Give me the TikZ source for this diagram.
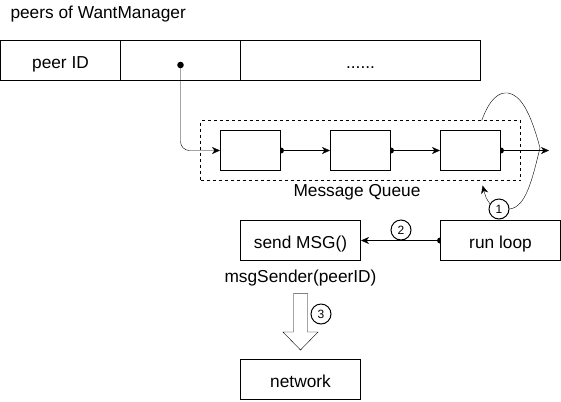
\documentclass[tikz,border=0pt]{standalone}
\usepackage{fontspec}
\setmainfont{Liberation Sans}
\usetikzlibrary{arrows.meta}
\pgfdeclarelayer{back}
\pgfsetlayers{back,main}
\begin{document}
\begin{tikzpicture}[x=1bp,y=-1bp,line width=1bp,
  txt/.style={font=\fontsize{17.3bp}{20bp}\selectfont},
  cell/.style={txt,draw,inner sep=0pt,minimum height=40bp,text height=16bp,text depth=0pt},
  box/.style={cell,fill=white,minimum width=120bp},
  qbox/.style={draw,fill=white,minimum width=60bp,minimum height=40bp,inner sep=0pt},
  num/.style={draw,fill=white,circle,inner sep=0pt,minimum size=20bp,font=\fontsize{12bp}{12bp}\selectfont},
  arr/.style={-{Stealth[length=8bp,width=7bp,inset=2.5bp]}},
  dot/.style={fill=black}]
\useasboundingbox (0,0) rectangle (561,401);
% title
\node[txt,anchor=base west,inner sep=0pt] (title) at (10,18.5) {peers of WantManager};
% table
\node[cell,minimum width=120bp] (c1) at (60.5,60) {peer ID};
\node[cell,minimum width=120bp] (c2) at (180.5,60) {};
\node[cell,minimum width=240bp] (c3) at (360.5,60) {......};
% message queue
\node[draw,dashed,dash pattern=on 3bp off 3bp,minimum width=320bp,minimum height=60bp,inner sep=0pt] (mq) at (360.5,150.5) {};
\node[txt,anchor=base,inner sep=0pt] (mql) at (357,196) {Message Queue};
\node[qbox] (q1) at (250.5,150.5) {};
\node[qbox] (q2) at (360.5,150.5) {};
\node[qbox] (q3) at (470.5,150.5) {};
\coordinate (qout) at (549,150.5);
% lower boxes
\node[box] (send) at (300.5,240.5) {send MSG()};
\node[box] (run) at (500.5,240.5) {run loop};
\node[txt,anchor=base,inner sep=0pt] (ms) at (300.5,282.5) {msgSender(peerID)};
\node[box] (net) at (300.5,379.5) {network};
% numbers
\node[num] (n1) at (499,209) {1};
\node[num] (n2) at (401,230) {2};
\node[num] (n3) at (321,314) {3};
% coordinates
\coordinate (dA) at (180.5,65);
\coordinate (qtop) at (481.7,120.5);
\coordinate (qback) at (482.5,185.5);
\begin{pgfonlayer}{back}
\fill[dot] (dA) circle (3.3bp);
\draw[arr,rounded corners=9bp] (dA) |- (q1.west);
\fill[dot] (q1.east) circle (3bp);
\draw[arr] (q1.east) -- (q2.west);
\fill[dot] (q2.east) circle (3bp);
\draw[arr] (q2.east) -- (q3.west);
\fill[dot] (q3.east) circle (3bp);
\draw[arr] (q3.east) -- (qout);
\fill[dot] (run.west) circle (3bp);
\draw[arr] (run.west) -- (send.east);
\draw (qtop) .. controls (490,98) and (499,92) .. (508,93)
  .. controls (520,95) and (530,110) .. (540,148)
  .. controls (532,180) and (526,207) .. (n1.east);
\draw[arr] (n1.150) .. controls (486,198) .. (qback);
\end{pgfonlayer}
% big hollow arrow
\draw[fill=white] (293.5,293.5) -- (307.5,293.5) -- (307.5,332) -- (318,332) -- (300.5,350) -- (283,332) -- (293.5,332) -- cycle;
\draw[gray,line width=1.5bp] (293.5,293.5) -- (307.5,293.5);
\end{tikzpicture}
\end{document}
